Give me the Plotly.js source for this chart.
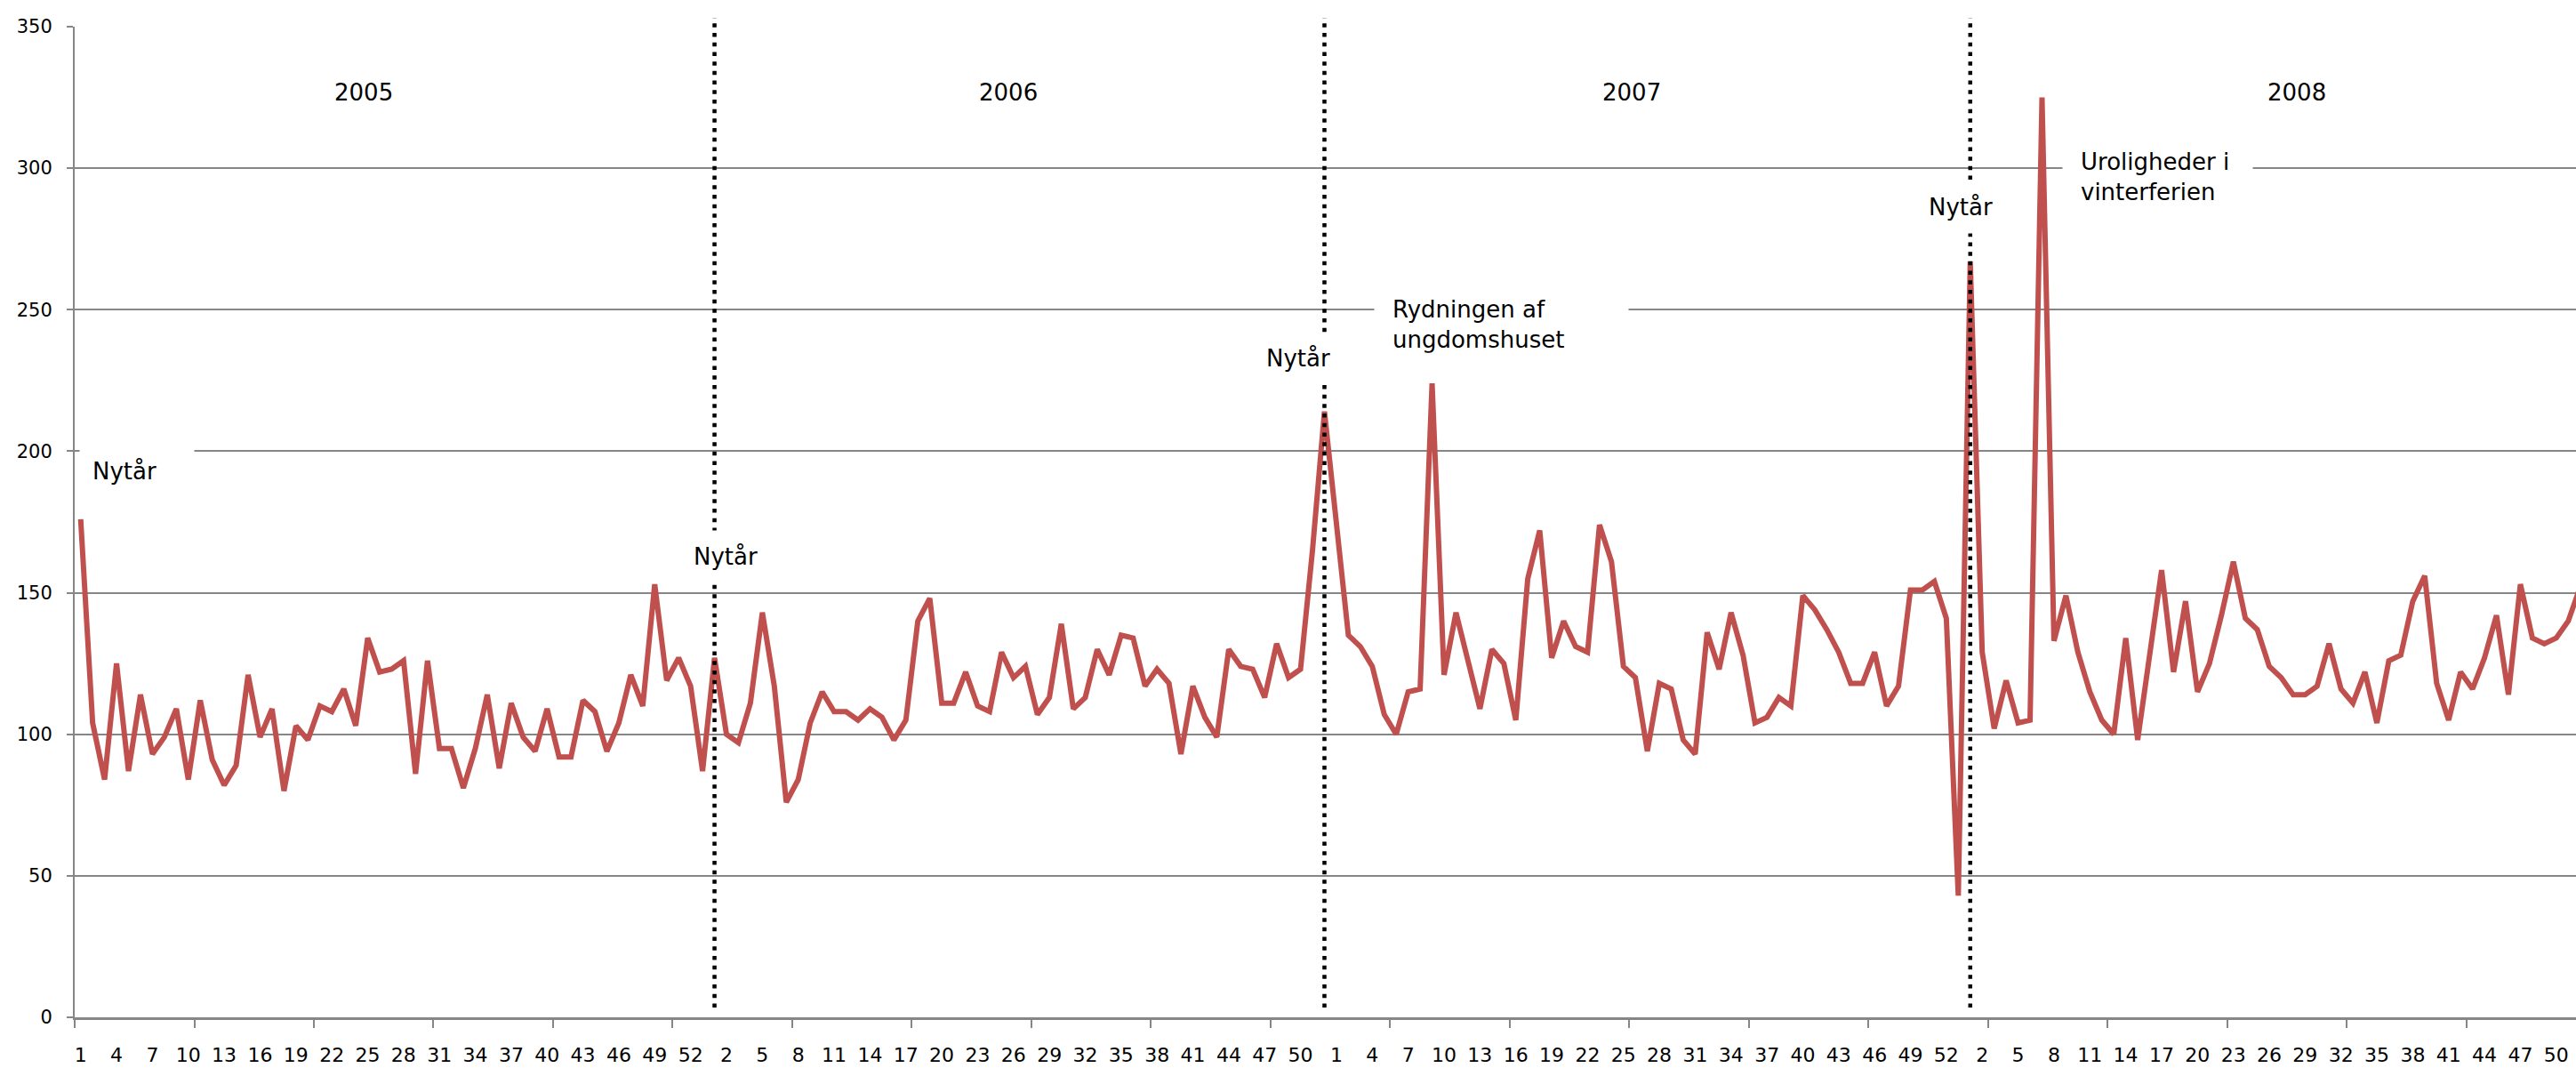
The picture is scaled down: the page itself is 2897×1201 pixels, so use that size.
<!DOCTYPE html>
<html>
<head>
<meta charset="utf-8">
<script src="https://cdn.plot.ly/plotly-3.0.1.min.js"></script>
<style>
html, body { margin: 0; padding: 0; background: #fff; }
#chart { width: 2897px; height: 1201px; }
</style>
</head>
<body>
<div id="chart"></div>
<script>
// Weekly values per year
const y2005 = [176, 104, 84, 125, 87, 114, 93, 99, 109, 84, 112, 91, 82, 89, 121, 99, 109, 80, 103, 98,
  110, 108, 116, 103, 134, 122, 123, 126, 86, 126, 95, 95, 81, 95, 114, 88, 111, 99, 94, 109,
  92, 92, 112, 108, 94, 104, 121, 110, 153, 119, 127, 117, 87];
const y2006 = [127, 100, 97, 111, 143, 117, 76, 84, 104, 115, 108, 108, 105, 109, 106, 98, 105, 140, 148, 111,
  111, 122, 110, 108, 129, 120, 124, 107, 113, 139, 109, 113, 130, 121, 135, 134, 117, 123, 118, 93,
  117, 106, 99, 130, 124, 123, 113, 132, 120, 123, 165, 214];
const y2007 = [174, 135, 131, 124, 107, 100, 115, 116, 224, 121, 143, 126, 109, 130, 125, 105, 155, 172, 127, 140,
  131, 129, 174, 161, 124, 120, 94, 118, 116, 98, 93, 136, 123, 143, 128, 104, 106, 113, 110, 149,
  144, 137, 129, 118, 118, 129, 110, 117, 151, 151, 154, 141, 43];
const y2008 = [267, 129, 102, 119, 104, 105, 325, 133, 149, 129, 115, 105, 100, 134, 98, 128, 158, 122, 147, 115,
  125, 142, 161, 141, 137, 124, 120, 114, 114, 117, 132, 116, 111, 122, 104, 126, 128, 147, 156, 118,
  105, 122, 116, 127, 142, 114, 153, 134, 132, 134, 140, 152];

// Week tick labels shown on the x axis (every third week)
const xTickLabels = ['1','4','7','10','13','16','19','22','25','28','31','34','37','40','43','46','49','52',
  '2','5','8','11','14','17','20','23','26','29','32','35','38','41','44','47','50',
  '1','4','7','10','13','16','19','22','25','28','31','34','37','40','43','46','49','52',
  '2','5','8','11','14','17','20','23','26','29','32','35','38','41','44','47','50'];

// Year labels and event notes
const yearLabels = ['2005', '2006', '2007', '2008'];
const newYearMarks = [53, 104, 158];

const values = y2005.concat(y2006, y2007, y2008);
const xIdx = values.map((v, i) => i);
const tickVals = xTickLabels.map((t, k) => 3 * k);

const trace = {
  x: xIdx, y: values, type: 'scatter', mode: 'lines',
  line: { color: '#C0504D', width: 6 },
  hoverinfo: 'skip'
};

const FONT = 'DejaVu Sans, Verdana, sans-serif';
const annFont = { family: FONT, size: 26, color: '#000' };

const yearPos = [23.7, 77.6, 129.7, 185.3];
const annotations = yearLabels.map((t, k) => ({
  text: t, x: yearPos[k], y: 326.6, xref: 'x', yref: 'y',
  showarrow: false, font: annFont, xanchor: 'center', yanchor: 'middle'
}));

annotations.push(
  { text: 'Nytår', x: -0.13, y: 193, xref: 'x', yref: 'y', xanchor: 'left', yanchor: 'middle',
    showarrow: false, font: annFont, bgcolor: '#fff', borderpad: 14, width: 100, align: 'left' },
  { text: 'Nytår', x: 53.9, y: 162.8, xref: 'x', yref: 'y', xanchor: 'center', yanchor: 'middle',
    showarrow: false, font: annFont, bgcolor: '#fff', borderpad: 14 },
  { text: 'Nytår', x: 101.8, y: 232.9, xref: 'x', yref: 'y', xanchor: 'center', yanchor: 'middle',
    showarrow: false, font: annFont, bgcolor: '#fff', borderpad: 10 },
  { text: 'Rydningen af<br>ungdomshuset', x: 108.1, y: 244.7, xref: 'x', yref: 'y', xanchor: 'left', yanchor: 'middle',
    showarrow: false, font: annFont, bgcolor: '#fff', borderpad: 20, width: 245, align: 'left' },
  { text: 'Nytår', x: 157.2, y: 286.1, xref: 'x', yref: 'y', xanchor: 'center', yanchor: 'middle',
    showarrow: false, font: annFont, bgcolor: '#fff', borderpad: 14 },
  { text: 'Uroligheder i<br>vinterferien', x: 165.7, y: 297, xref: 'x', yref: 'y', xanchor: 'left', yanchor: 'middle',
    showarrow: false, font: annFont, bgcolor: '#fff', borderpad: 20, width: 173, align: 'left' }
);

const shapes = newYearMarks.map(m => ({
  type: 'line', xref: 'x', yref: 'paper', x0: m, x1: m, y0: 0.0099, y1: 1.009,
  line: { color: '#000', width: 4.5, dash: '4.5px,6.2px' }, layer: 'above'
}));

const layout = {
  width: 2897, height: 1201,
  margin: { l: 84, r: 0, t: 30, b: 57, pad: 0 },
  paper_bgcolor: '#fff', plot_bgcolor: '#fff',
  showlegend: false,
  font: { family: FONT, color: '#000' },
  xaxis: {
    range: [-0.5, 208.65], tickmode: 'array', tickvals: tickVals, ticktext: xTickLabels,
    tickangle: 0, ticks: '', showgrid: false, zeroline: false,
    showline: true, linecolor: '#868686', linewidth: 2.5,
    tickfont: { family: FONT, size: 22, color: '#000' }, ticklabelstandoff: 21,
    minor: { ticks: 'outside', ticklen: 9, tickcolor: '#868686', tickwidth: 2, tickmode: 'linear', tick0: -0.5, dtick: 10, showgrid: false }
  },
  yaxis: {
    range: [0, 350], tickmode: 'linear', tick0: 0, dtick: 50,
    showgrid: true, gridcolor: '#868686', gridwidth: 2, zeroline: false,
    showline: true, linecolor: '#868686', linewidth: 2,
    ticks: 'outside', ticklen: 7, tickcolor: '#868686', tickwidth: 2,
    tickfont: { family: FONT, size: 21, color: '#000' }, ticklabelstandoff: 12
  },
  shapes: shapes,
  annotations: annotations
};

Plotly.newPlot('chart', [trace], layout, { staticPlot: true, displayModeBar: false });
</script>
</body>
</html>
